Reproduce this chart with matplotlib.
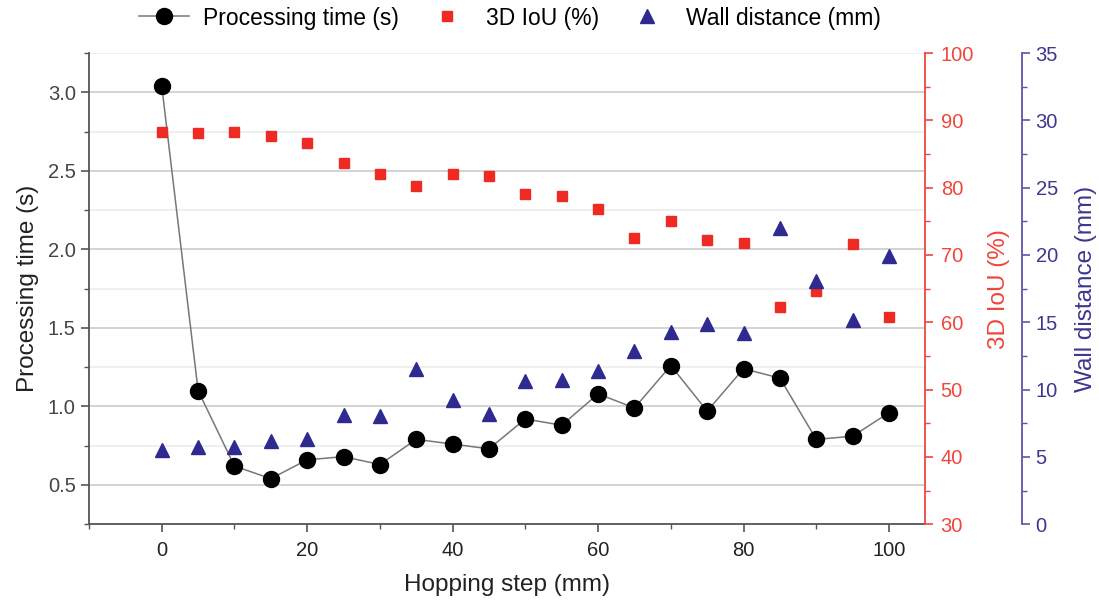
import numpy as np
import matplotlib
matplotlib.use("Agg")
import matplotlib.pyplot as plt
from matplotlib.ticker import MultipleLocator

plt.rcParams['font.family'] = ['Liberation Sans', 'DejaVu Sans']

# hopping step (mm)
step = [0, 5, 10, 15, 20, 25, 30, 35, 40, 45, 50, 55, 60, 65, 70, 75, 80, 85, 90, 95, 100]
# processing time (s)
proc_time = [3.04, 1.10, 0.62, 0.54, 0.66, 0.68, 0.63, 0.79, 0.76, 0.73, 0.92,
             0.88, 1.08, 0.99, 1.26, 0.97, 1.24, 1.18, 0.79, 0.81, 0.96]
# 3D IoU (%)
iou = [88.2, 88.1, 88.2, 87.6, 86.7, 83.6, 82.0, 80.3, 82.1, 81.8, 79.0,
       78.8, 76.8, 72.5, 75.1, 72.2, 71.8, 62.3, 64.7, 71.7, 60.8]
# wall distance (mm)
wall = [5.5, 5.7, 5.7, 6.2, 6.3, 8.1, 8.0, 11.5, 9.2, 8.2, 10.6,
        10.7, 11.4, 12.9, 14.3, 14.9, 14.2, 22.0, 18.1, 15.2, 19.9]

red = '#ee2a22'
red_ax = '#f0463c'
navy = '#2e2a90'
blue_ax = '#5a56a8'
blue_txt = '#3c3890'

fig = plt.figure(figsize=(10.99, 6.06), dpi=100)
ax = fig.add_axes([0.081, 0.135, 0.761, 0.7775])

# gridlines come from the left axis
ax.set_ylim(0.25, 3.25)
ax.set_xlim(-10, 105)
ax.yaxis.set_major_locator(MultipleLocator(0.5))
ax.yaxis.set_minor_locator(MultipleLocator(0.25))
ax.xaxis.set_major_locator(MultipleLocator(20))
ax.xaxis.set_minor_locator(MultipleLocator(10))
ax.grid(axis='y', which='major', color='#d0d0d0', lw=1.3, zorder=0)
ax.grid(axis='y', which='minor', color='#eeeeee', lw=1.3, zorder=0)

l1, = ax.plot(step, proc_time, '-o', color='#777777', lw=1.1, mfc='black',
              mec='black', ms=11.5, zorder=3, label='Processing time (s)')

ax2 = ax.twinx()
ax2.set_ylim(30, 100)
ax2.yaxis.set_major_locator(MultipleLocator(10))
ax2.yaxis.set_minor_locator(MultipleLocator(5))
l2, = ax2.plot(step, iou, 's', color=red, ms=6.5, ls='none', label='3D IoU (%)')

ax3 = ax.twinx()
ax3.spines['right'].set_position(('axes', 1.116))
ax3.set_ylim(0, 35)
ax3.yaxis.set_major_locator(MultipleLocator(5))
ax3.yaxis.set_minor_locator(MultipleLocator(2.5))
l3, = ax3.plot(step, wall, '^', color=navy, ms=10, ls='none', label='Wall distance (mm)')

for a in (ax, ax2, ax3):
    a.spines['top'].set_visible(False)
ax.spines['right'].set_visible(False)
for a in (ax2, ax3):
    a.spines['left'].set_visible(False)
    a.spines['bottom'].set_visible(False)

ax.spines['left'].set_color('#555555')
ax.spines['bottom'].set_color('#555555')
ax.spines['left'].set_linewidth(1.3)
ax.spines['bottom'].set_linewidth(1.3)
ax.tick_params(axis='both', which='major', direction='out', length=6, width=1.2,
               color='#555555', labelsize=14.5, labelcolor='#444444')
ax.tick_params(axis='both', which='minor', direction='out', length=3.5, width=1.0,
               color='#555555')
ax.tick_params(axis='x', labelcolor='#222222', pad=6)

ax2.spines['right'].set_color(red_ax)
ax2.spines['right'].set_linewidth(1.3)
ax2.tick_params(which='major', color=red_ax, labelcolor=red_ax, labelsize=14.5,
                length=6, width=1.2, pad=5)
ax2.tick_params(which='minor', color=red_ax, length=3.5, width=1.0)

ax3.spines['right'].set_color(blue_ax)
ax3.spines['right'].set_linewidth(1.3)
ax3.tick_params(which='major', color=blue_ax, labelcolor=blue_txt, labelsize=14.5,
                length=6, width=1.2)
ax3.tick_params(which='minor', color=blue_ax, length=3.5, width=1.0)

ax.set_xlabel('Hopping step (mm)', fontsize=17.5, color='#222222', labelpad=10)
ax.set_ylabel('Processing time (s)', fontsize=17.5, color='#222222', labelpad=6)
ax2.set_ylabel('3D IoU (%)', fontsize=17.5, color=red_ax, labelpad=10)
ax3.set_ylabel('Wall distance (mm)', fontsize=17.5, color=blue_txt, labelpad=12)

fig.legend(handles=[l1, l2, l3], loc='center', bbox_to_anchor=(0.464, 1 - 18 / 606),
           ncol=3, frameon=False, fontsize=16.5, handlelength=2.2,
           columnspacing=1.0, handletextpad=0.6)

fig.savefig('out.png', dpi=100)
